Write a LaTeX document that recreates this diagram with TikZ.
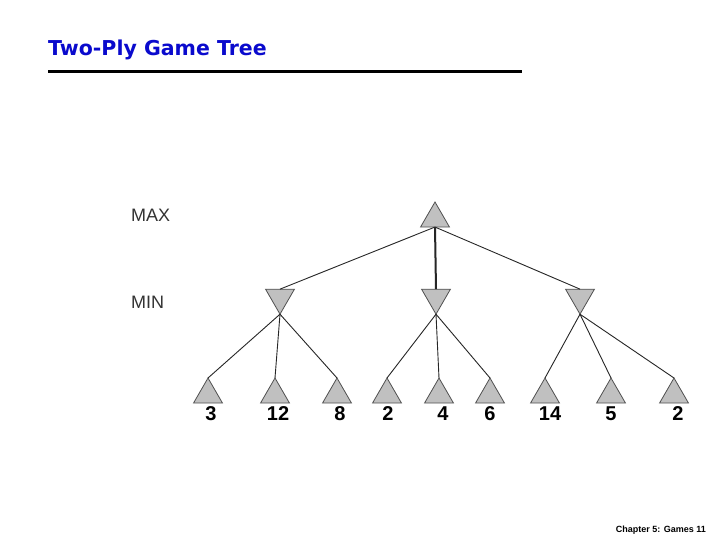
\documentclass[tikz,border=0pt]{standalone}
\usepackage{fontspec}
\setmainfont{Liberation Sans}
\newfontfamily\titlefont{DejaVu Sans}
\usetikzlibrary{shapes.geometric}
\definecolor{titleblue}{HTML}{0A0ACD}
\definecolor{trifill}{HTML}{C0C0C0}
\definecolor{tridraw}{HTML}{505050}
\definecolor{lbl}{HTML}{333333}
\begin{document}
\begin{tikzpicture}[x=1pt,y=-1pt,
  tri/.style={regular polygon,regular polygon sides=3,minimum size=33.4pt,inner sep=0pt,outer sep=0pt,fill=trifill,draw=tridraw,line width=0.8pt},
  maxtri/.style={tri},
  mintri/.style={tri,shape border rotate=180},
  edge/.style={draw=black!85,line width=0.9pt},
  num/.style={font=\fontsize{20}{20}\selectfont\bfseries,inner sep=0pt},
  lvl/.style={font=\fontsize{18}{18}\selectfont,text=lbl,inner sep=0pt,anchor=west}]
\useasboundingbox[fill=white] (0,0) rectangle (720,540);
% title
\node[anchor=base west,inner sep=0pt,text=titleblue,font=\titlefont\fontsize{20.5}{20.5}\selectfont\bfseries] (title) at (48,56) {Two-Ply Game Tree};
\coordinate (rl) at (48,72);
\coordinate (rr) at (522,72);
\draw[line width=3pt] (rl) -- (rr);
% level labels
\node[lvl] (maxl) at (131,215) {MAX};
\node[lvl] (minl) at (131,302) {MIN};
% nodes
\node[maxtri] (r) at (435,218.7) {};
\node[mintri] (a) at (280,297.5) {};
\node[mintri] (b) at (436,297.5) {};
\node[mintri] (c) at (580,297.5) {};
\foreach \n/\x in {l1/208,l2/275,l3/337,l4/387,l5/439,l6/490,l7/545,l8/611,l9/674}
  \node[maxtri] (\n) at (\x,394.7) {};
% leaf values
\node[num] (v1) at (211,414) {3};
\node[num] (v2) at (278,414) {12};
\node[num] (v3) at (340,414) {8};
\node[num] (v4) at (388,414) {2};
\node[num] (v5) at (443,414) {4};
\node[num] (v6) at (490,414) {6};
\node[num] (v7) at (550,414) {14};
\node[num] (v8) at (611,414) {5};
\node[num] (v9) at (678,414) {2};
% edges
\draw[edge] (r.side 2) -- (a.side 2);
\draw[edge,line width=2pt] (r.side 2) -- (b.side 2);
\draw[edge] (r.side 2) -- (c.side 2);
\foreach \p/\q in {a/l1,a/l2,a/l3,b/l4,b/l5,b/l6,c/l7,c/l8,c/l9}
  \draw[edge] (\p.corner 1) -- (\q.corner 1);
% footer
\node[anchor=east,inner sep=0pt,font=\fontsize{9}{9}\selectfont\bfseries] (foot) at (706,530) {Chapter 5: Games 11};
\end{tikzpicture}
\end{document}
